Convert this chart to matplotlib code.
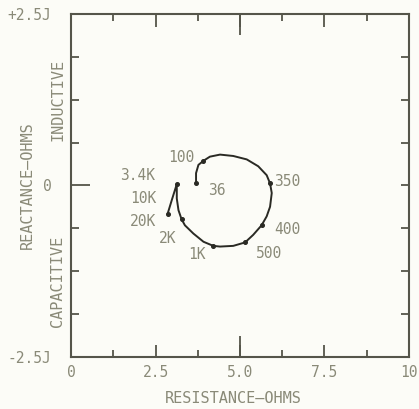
import matplotlib
matplotlib.use("Agg")
import matplotlib.pyplot as plt
from matplotlib.ticker import MultipleLocator, FixedLocator

# impedance locus (resistance ohms, reactance ohms)
path_r = [3.70, 3.70, 3.77, 3.92, 4.11, 4.41, 4.80, 5.20, 5.54, 5.79, 5.89,
          5.94, 5.89, 5.79, 5.64, 5.39, 5.15, 4.80, 4.41, 4.21, 3.92, 3.62,
          3.37, 3.27, 3.18, 3.13, 3.13, 2.99, 2.86]
path_x = [0.03, 0.18, 0.30, 0.36, 0.42, 0.45, 0.43, 0.38, 0.28, 0.15, 0.03,
          -0.11, -0.31, -0.45, -0.58, -0.72, -0.83, -0.88, -0.89, -0.88, -0.82, -0.70,
          -0.58, -0.49, -0.36, -0.19, 0.02, -0.20, -0.41]

# frequency labels -> index into the path
freq_labels = ["36", "100", "350", "400", "500", "1K", "2K", "3.4K", "10K", "20K"]
freq_index = [0, 3, 10, 14, 16, 19, 23, 26, 27, 28]
dot_labels = ["36", "100", "350", "400", "500", "1K", "2K", "3.4K", "20K"]

x_ticks = [0, 2.5, 5.0, 7.5, 10]
x_tick_labels = ["0", "2.5", "5.0", "7.5", "10"]
y_ticks = [-2.5, 0, 2.5]
y_tick_labels = ["-2.5J", "0", "+2.5J"]

# label offsets in pixels from the point
label_offsets = {
    "36": (21, -7), "100": (-22, 3), "350": (17, 2), "400": (26, -4),
    "500": (24, -11), "1K": (-16, -9), "2K": (-14, -19), "3.4K": (-39, 9),
    "10K": (-29, 1), "20K": (-25, -8),
}

TXT = "#8a8a78"
AX = "#55554a"
INK = "#2a2a24"
BG = "#fcfcf7"

plt.rcParams["font.family"] = ["DejaVu Sans Mono", "DejaVu Sans"]

fig = plt.figure(figsize=(4.19, 4.09), dpi=100, facecolor=BG)
ax = fig.add_axes([0.1695, 0.127, 0.8065, 0.839])
ax.set_facecolor(BG)

ax.plot(path_r, path_x, color=INK, lw=1.4, solid_capstyle="round", zorder=3)
for lab, i in zip(freq_labels, freq_index):
    if lab in dot_labels:
        ax.plot(path_r[i], path_x[i], "o", color=INK, ms=2.6, zorder=4)
    ax.annotate(lab, (path_r[i], path_x[i]), xytext=label_offsets[lab],
                textcoords="offset pixels", ha="center", va="center",
                fontsize=10.5, color=TXT)

ax.set_xlim(0, 10)
ax.set_ylim(-2.5, 2.5)

ax.xaxis.set_major_locator(FixedLocator(x_ticks))
ax.set_xticklabels(x_tick_labels)
ax.xaxis.set_minor_locator(MultipleLocator(1.25))
ax.yaxis.set_major_locator(FixedLocator(y_ticks))
ax.set_yticklabels(y_tick_labels)
ax.yaxis.set_minor_locator(MultipleLocator(0.625))

ax.tick_params(which="both", direction="in", top=True, right=True,
               color=AX, width=1.3, labelcolor=TXT, labelsize=10.5)
ax.tick_params(axis="x", which="major", length=9, pad=6)
ax.tick_params(axis="x", which="minor", length=5)
ax.tick_params(axis="y", which="major", length=14, pad=14, right=False)
ax.tick_params(axis="y", which="minor", length=6)

# the long centre tick on the resistance scale
for side in ("bottom", "top"):
    sec = ax.secondary_xaxis(side)
    sec.set_xticks([5.0])
    sec.tick_params(direction="in", length=15, width=1.3, color=AX,
                    labelbottom=False, labeltop=False)
    sec.spines[side].set_visible(False)

# short zero tick on the right edge
secy = ax.secondary_yaxis("right")
secy.set_yticks([0])
secy.tick_params(direction="in", length=6, width=1.3, color=AX, labelright=False)
secy.spines["right"].set_visible(False)

for sp in ax.spines.values():
    sp.set_color(AX)
    sp.set_linewidth(1.5)

ax.text(0.48, -0.12, "RESISTANCE\u2014OHMS", transform=ax.transAxes,
        ha="center", va="center", fontsize=11, color=TXT)
ax.text(-0.13, 0.5, "REACTANCE\u2014OHMS", transform=ax.transAxes, rotation=90,
        ha="center", va="center", fontsize=11, color=TXT)
ax.text(-0.04, 0.75, "INDUCTIVE", transform=ax.transAxes, rotation=90,
        ha="center", va="center", fontsize=11, color=TXT)
ax.text(-0.04, 0.22, "CAPACITIVE", transform=ax.transAxes, rotation=90,
        ha="center", va="center", fontsize=11, color=TXT)

fig.savefig("out.png", dpi=100, facecolor=BG)
